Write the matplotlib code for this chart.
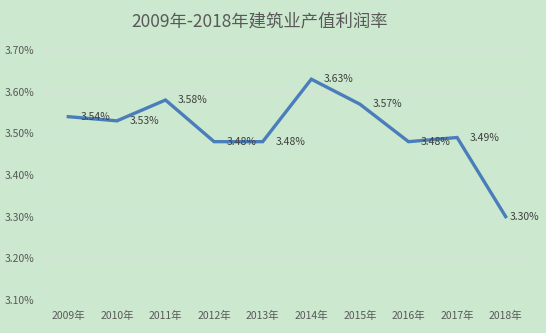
import matplotlib
matplotlib.use("Agg")
import matplotlib.pyplot as plt
from matplotlib.ticker import FuncFormatter

plt.rcParams['font.family'] = ['Noto Sans CJK SC', 'DejaVu Sans']

years = ["2009年", "2010年", "2011年", "2012年", "2013年",
         "2014年", "2015年", "2016年", "2017年", "2018年"]
profit_rate = [3.54, 3.53, 3.58, 3.48, 3.48, 3.63, 3.57, 3.48, 3.49, 3.30]
y_ticks = [3.10, 3.20, 3.30, 3.40, 3.50, 3.60, 3.70]

bg = "#cce8cf"
fig = plt.figure(figsize=(5.46, 3.33), dpi=100, facecolor=bg)
ax = fig.add_axes([0.0806, 0.0991, 0.8901, 0.7507], facecolor=bg)

x = list(range(len(years)))
ax.plot(x, profit_rate, color="#4a7ebb", linewidth=2.4, solid_joinstyle="miter", zorder=3)

for xi, v in zip(x, profit_rate):
    # the last label is pulled in so it stays inside the chart
    dx = 3 if xi == len(x) - 1 else 9
    ax.annotate(f"{v:.2f}%", (xi, v), xytext=(dx, 0), textcoords="offset points",
                ha="left", va="center", fontsize=7.5, color="#404040", zorder=4)

ax.set_xlim(-0.5, len(years) - 0.5)
ax.set_ylim(y_ticks[0], y_ticks[-1])
ax.set_yticks(y_ticks)
ax.yaxis.set_major_formatter(FuncFormatter(lambda v, _: f"{v:.2f}%"))
ax.set_xticks(x)
ax.set_xticklabels(years)
ax.grid(axis="y", color="#d9e2d9", linewidth=0.8, zorder=0)
for s in ax.spines.values():
    s.set_visible(False)
ax.tick_params(axis="both", length=0, labelsize=7.5, labelcolor="#595959")
ax.tick_params(axis="x", pad=8)
ax.tick_params(axis="y", pad=7)

fig.text(0.476, 0.935, "2009年-2018年建筑业产值利润率", ha="center", va="center",
         fontsize=12.5, color="#595959")

fig.savefig("out.png", dpi=100, facecolor=bg)
